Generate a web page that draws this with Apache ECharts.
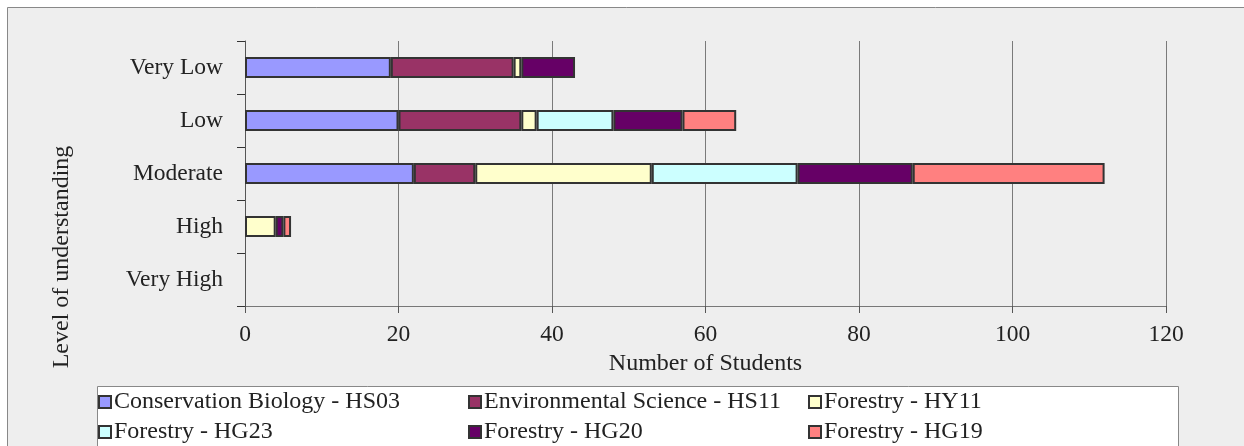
<!DOCTYPE html>
<html>
<head>
<meta charset="utf-8">
<script src="https://cdn.jsdelivr.net/npm/echarts@6/dist/echarts.min.js"></script>
<style>
  html, body { margin: 0; padding: 0; background: #ffffff; }
  #chart { width: 1244px; height: 446px; }
</style>
</head>
<body>
<div id="chart"></div>
<script>
// Understanding level categories, top to bottom
const levels = ['Very Low', 'Low', 'Moderate', 'High', 'Very High'];

// Student counts per programme, in the order of the levels above
const hs03 = [19, 20, 22, 0, 0];
const hs11 = [16, 16, 8, 0, 0];
const hy11 = [1, 2, 23, 4, 0];
const hg23 = [0, 10, 19, 0, 0];
const hg20 = [7, 9, 15, 1, 0];
const hg19 = [0, 7, 25, 1, 0];

const seriesNames = [
  'Conservation Biology - HS03',
  'Environmental Science - HS11',
  'Forestry - HY11',
  'Forestry - HG23',
  'Forestry - HG20',
  'Forestry - HG19'
];
const seriesValues = [hs03, hs11, hy11, hg23, hg20, hg19];
const seriesColors = ['#9999ff', '#993366', '#ffffcc', '#ccffff', '#660066', '#ff8080'];

const xTicks = [0, 20, 40, 60, 80, 100, 120];

const FONT = "'Liberation Serif', 'Times New Roman', serif";
const TEXT = '#222222';

const chart = echarts.init(document.getElementById('chart'), null, { renderer: 'canvas' });

const series = seriesNames.map((name, i) => ({
  name: name,
  type: 'bar',
  stack: 'students',
  barWidth: 21,
  itemStyle: { color: seriesColors[i], borderColor: '#333333', borderWidth: 2 },
  // empty segments are left out so no stray border is drawn
  data: seriesValues[i].map(v => (v === 0 ? '-' : v)),
  animation: false
}));

function legendColumn(names, left) {
  return {
    orient: 'vertical',
    left: left,
    top: 390,
    itemWidth: 12,
    itemHeight: 12,
    itemGap: 6,
    padding: 0,
    icon: 'rect',
    itemStyle: { borderColor: '#333333', borderWidth: 2 },
    textStyle: { fontFamily: FONT, fontSize: 24, color: TEXT, lineHeight: 24, padding: [0, 0, 0, -2] },
    data: names,
    selectedMode: false
  };
}

chart.setOption({
  animation: false,
  backgroundColor: '#ffffff',
  graphic: [
    {
      type: 'rect', z: -10, silent: true,
      shape: { x: 7.5, y: 7.5, width: 1260, height: 460 },
      style: { fill: '#eeeeee', stroke: '#888888', lineWidth: 1 }
    },
    {
      type: 'rect', z: -5, silent: true,
      shape: { x: 97.5, y: 386.5, width: 1081, height: 80 },
      style: { fill: '#ffffff', stroke: '#888888', lineWidth: 1 }
    },
    {
      type: 'text', silent: true,
      x: 62, y: 257, rotation: Math.PI / 2,
      style: {
        text: 'Level of understanding',
        font: '24px ' + FONT,
        fill: TEXT,
        align: 'center',
        verticalAlign: 'middle'
      }
    }
  ],
  grid: { left: 245, right: 78, top: 41, bottom: 140, containLabel: false },
  legend: [
    legendColumn([seriesNames[0], seriesNames[3]], 98),
    legendColumn([seriesNames[1], seriesNames[4]], 468),
    legendColumn([seriesNames[2], seriesNames[5]], 808)
  ],
  xAxis: {
    type: 'value',
    min: xTicks[0],
    max: xTicks[xTicks.length - 1],
    interval: 20,
    name: 'Number of Students',
    nameLocation: 'middle',
    nameGap: 45,
    nameTextStyle: { fontFamily: FONT, fontSize: 24, color: TEXT },
    axisLine: { show: true, lineStyle: { color: '#777777', width: 1 } },
    axisTick: { show: true, length: 7, inside: false, lineStyle: { color: '#555555' } },
    axisLabel: { fontFamily: FONT, fontSize: 23.5, color: TEXT, margin: 17 },
    splitLine: { show: true, lineStyle: { color: '#7a7a7a', width: 1 } }
  },
  yAxis: {
    type: 'category',
    data: levels,
    inverse: true,
    axisLine: { show: true, lineStyle: { color: '#555555', width: 1 } },
    axisTick: { show: true, length: 8, inside: false, alignWithLabel: false, lineStyle: { color: '#333333' } },
    axisLabel: { fontFamily: FONT, fontSize: 23.5, color: TEXT, margin: 22, padding: [3, 0, 0, 0] },
    splitLine: { show: false }
  },
  series: series
});
</script>
</body>
</html>
